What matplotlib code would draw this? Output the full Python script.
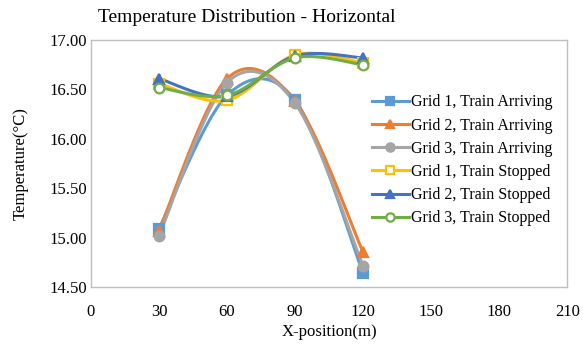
import numpy as np
import matplotlib
matplotlib.use("Agg")
import matplotlib.pyplot as plt
from matplotlib.lines import Line2D

x_pos = [30, 60, 90, 120]
labels = ["Grid 1, Train Arriving", "Grid 2, Train Arriving", "Grid 3, Train Arriving",
          "Grid 1, Train Stopped", "Grid 2, Train Stopped", "Grid 3, Train Stopped"]
g1_arr = [15.09, 16.44, 16.39, 14.64]
g2_arr = [15.07, 16.61, 16.38, 14.85]
g3_arr = [15.02, 16.57, 16.36, 14.71]
g1_stop = [16.56, 16.39, 16.85, 16.77]
g2_stop = [16.61, 16.43, 16.84, 16.82]
g3_stop = [16.52, 16.44, 16.82, 16.75]
series = [g1_arr, g2_arr, g3_arr, g1_stop, g2_stop, g3_stop]
colors = ["#5B9BD5", "#ED7D31", "#A5A5A5", "#FFC000", "#4472C4", "#70AD47"]
markers = ["s", "^", "o", "s", "^", "o"]
filled = [True, True, True, False, True, False]

plt.rcParams['font.family'] = ['Liberation Serif', 'DejaVu Serif']

def smooth(xs, ys, n=40):
    P = np.column_stack([xs, ys]).astype(float)
    out = []
    for i in range(len(P) - 1):
        p0 = P[i - 1] if i > 0 else P[i]
        p1 = P[i]
        p2 = P[i + 1]
        p3 = P[i + 2] if i + 2 < len(P) else P[i + 1]
        c1 = p1 + (p2 - p0) / 6.0
        c2 = p2 - (p3 - p1) / 6.0
        t = np.linspace(0, 1, n)[:, None]
        seg = ((1 - t) ** 3) * p1 + 3 * ((1 - t) ** 2) * t * c1 + 3 * (1 - t) * t ** 2 * c2 + t ** 3 * p2
        out.append(seg if i == 0 else seg[1:])
    s = np.vstack(out)
    return s[:, 0], s[:, 1]

fig = plt.figure(figsize=(5.83, 3.49), dpi=100)
ax = fig.add_axes([0.156, 0.178, 0.817, 0.707])

handles = []
for ys, c, m, f, lab in zip(series, colors, markers, filled, labels):
    sx, sy = smooth(x_pos, ys)
    ax.plot(sx, sy, color=c, lw=2.2, solid_capstyle='round', zorder=2)
    fc = c if f else "white"
    ax.plot(x_pos, ys, linestyle='none', marker=m, markersize=7,
            markerfacecolor=fc, markeredgecolor=c, markeredgewidth=1.6, zorder=3)
    handles.append(Line2D([0], [0], color=c, lw=2.2, marker=m, markersize=6,
                          markerfacecolor=fc, markeredgecolor=c, markeredgewidth=1.6, label=lab))

ax.set_xlim(0, 210)
ax.set_ylim(14.5, 17.0)
ax.set_xticks(np.arange(0, 211, 30))
ax.set_yticks(np.arange(14.5, 17.01, 0.5))
ax.yaxis.set_major_formatter(matplotlib.ticker.FormatStrFormatter('%.2f'))
ax.tick_params(length=0, labelsize=12)
ax.tick_params(axis='x', pad=12)
ax.tick_params(axis='y', pad=3)
for sp in ax.spines.values():
    sp.set_color("#BFBFBF")
    sp.set_linewidth(1.0)

ax.set_xlabel("X-position(m)", fontsize=12, labelpad=3)
ax.set_ylabel("Temperature(°C)", fontsize=12, labelpad=15)
fig.text(0.424, 0.95, "Temperature Distribution - Horizontal", fontsize=14, ha='center', va='center')

leg = ax.legend(handles=handles, loc='upper left', bbox_to_anchor=(0.59, 0.78),
                frameon=False, fontsize=11.5, handlelength=2.3, handletextpad=0.15,
                labelspacing=0.45, borderaxespad=0, borderpad=0)

fig.savefig("out.png", dpi=100)
